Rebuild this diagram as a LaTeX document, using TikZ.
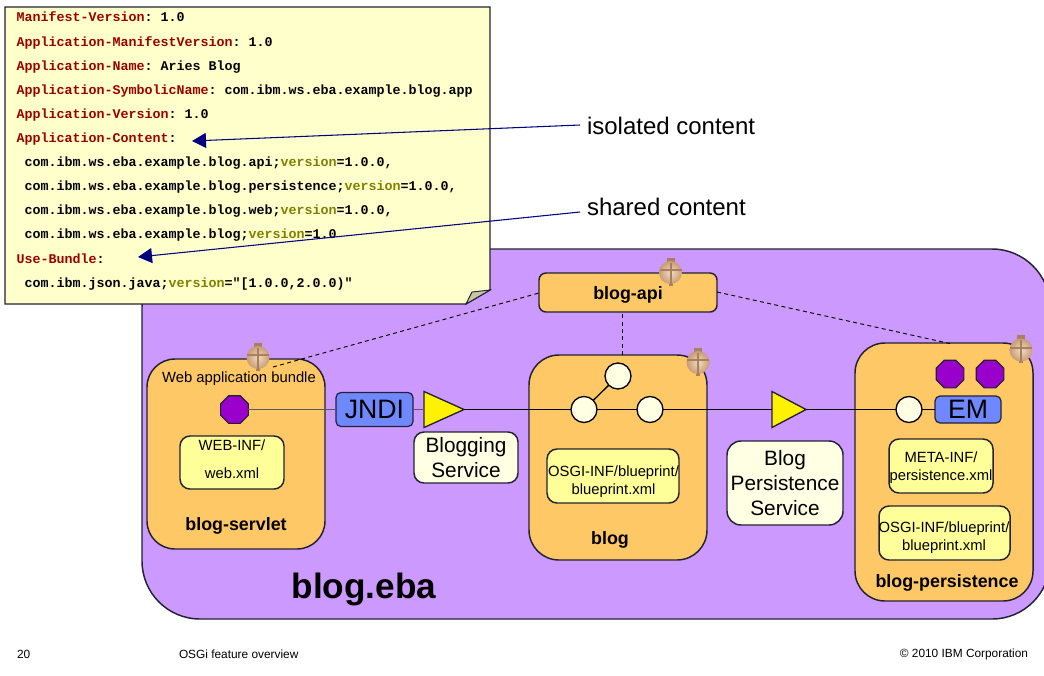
\documentclass[tikz,border=0pt]{standalone}
\usepackage{fontspec}
\setmainfont{Liberation Sans}
\setmonofont{Liberation Mono}
\usetikzlibrary{%
    arrows.meta,%
    shapes.geometric%
}
\def\px{.75pt}
\definecolor{ebapurple}{HTML}{CC99FF}
\definecolor{bundleorange}{HTML}{FFC866}
\definecolor{filled}{HTML}{FFFF99}
\definecolor{cream}{HTML}{FFFFE4}
\definecolor{notefill}{HTML}{FFFFCC}
\definecolor{notefold}{HTML}{C8C8A0}
\definecolor{emblue}{HTML}{7088FF}
\definecolor{violet}{HTML}{9900CC}
\definecolor{keyred}{HTML}{990000}
\definecolor{keyolive}{HTML}{808000}
\definecolor{linegrey}{HTML}{222233}
\definecolor{potlight}{HTML}{F0DCC0}
\definecolor{potdark}{HTML}{C89C74}
\definecolor{potline}{HTML}{A88060}
\newcommand{\keyname}[1]{\textcolor{keyred}{#1}}
\newcommand{\verkey}{\textcolor{keyolive}{version}}

\begin{document}
\begin{tikzpicture}[
    x=.75pt,y=-.75pt,
    every node/.style={outer sep=0pt,text=black},
    bundle/.style={draw=linegrey,line width=1.1pt,fill=bundleorange,inner sep=0pt},
    filebox/.style={draw=linegrey,line width=1.1pt,fill=filled,rounded corners=10*\px,
        inner sep=0pt},
    filetext/.style={inner sep=0pt,align=center,font=\fontsize{11.1pt}{13.5pt}\selectfont},
    servicebox/.style={draw=linegrey,line width=1.1pt,fill=cream,rounded corners=10*\px,
        inner sep=0pt,align=center,font=\fontsize{15.6pt}{18.6pt}\selectfont},
    resourcebox/.style={draw=linegrey,line width=.9pt,fill=emblue,rounded corners=5*\px,
        inner sep=0pt,font=\fontsize{20pt}{20pt}\selectfont},
    bundlename/.style={font=\fontsize{13.4pt}{15pt}\selectfont\bfseries},
    reference/.style={draw=linegrey,line width=.9pt,fill=violet,regular polygon,
        regular polygon sides=8,minimum size=30*\px,inner sep=0pt},
    service/.style={draw=black,line width=1pt,fill=cream,circle,minimum size=26*\px,inner sep=0pt},
    export/.style={draw=linegrey,line width=1pt,fill=yellow,isosceles triangle,
        isosceles triangle stretches,minimum width=36*\px,inner sep=0pt,anchor=west},
    wire/.style={draw=black,line width=1pt},
    softwire/.style={draw=black!65,line width=1pt},
    uses/.style={line width=.7pt,dash pattern=on 3pt off 2.5pt},
    pointer/.style={draw=blue!50!black,line width=.8pt,-{Triangle[length=14*\px,width=15*\px]}},
    manifest/.style={anchor=base west,inner sep=0pt,
        font=\fontsize{10pt}{12pt}\ttfamily\bfseries},
    callout/.style={anchor=west,inner sep=0pt,font=\fontsize{18pt}{21pt}\selectfont},
    footer/.style={inner sep=0pt,font=\fontsize{8.9pt}{11pt}\selectfont},
    potfile/.pic={
        \fill[potline] (-4,-15) rectangle (4,-9);
        \fill[potline] (-2,9) rectangle (2,13);
        \shade[inner color=potlight,outer color=potdark] (0,0) circle (11.5);
        \draw[potline,line width=1.5pt] (0,-10)--(0,11) (-11,-2.5)--(11,-2.5);
    },
    ]
    \useasboundingbox (0,0) rectangle (1044,675);
    \fill[white] (0,0) rectangle (1044,675);
    % Application
    \node[bundle,rounded corners=58*\px,fill=ebapurple,minimum width=908*\px,
          minimum height=370*\px] (eba) at (596,434) {};
    \node[font=\fontsize{26.4pt}{28pt}\selectfont\bfseries] (ebaname) at (364,589) {blog.eba};
    % Bundles
    \node[bundle,rounded corners=28*\px,minimum width=178*\px,minimum height=190*\px]
         (servlet) at (236,454) {};
    \node[bundle,rounded corners=30*\px,minimum width=178*\px,minimum height=205*\px]
         (blog) at (618,457.5) {};
    \node[bundle,rounded corners=30*\px,minimum width=178*\px,minimum height=258*\px]
         (persist) at (944,472) {};
    \node[bundle,rounded corners=7*\px,minimum width=178*\px,minimum height=39*\px]
         (api) at (628,292.5) {};
    \node[bundlename] (apiname) at (628,295) {blog-api};
    \node[bundlename] (servletname) at (236,526) {blog-servlet};
    \node[bundlename] (blogname) at (610,540) {blog};
    \node[bundlename] (persistname) at (947,583) {blog-persistence};
    \node[font=\fontsize{11.1pt}{13pt}\selectfont] (webbundle) at (239,379) {Web application bundle};
    % Package relations
    \coordinate (servletend) at (273,367);
    \coordinate (persistend) at (952,344);
    \draw[uses] (servletend)--(api.west |- 0,293);
    \draw[uses] (api.east |- 0,292)--(persistend);
    \draw[uses] (blog.north -| 622.3,0)--(api.south -| 622.3,0);
    % Contained files
    \node[filebox,minimum width=104*\px,minimum height=53*\px] (webxml) at (232,462.5) {};
    \node[filetext,font=\fontsize{11.1pt}{21pt}\selectfont] (webxmltext) at (232,459) {WEB-INF/\\web.xml};
    \node[filebox,minimum width=132*\px,minimum height=54*\px] (blogxml) at (613,476) {};
    \node[filetext] (blogxmltext) at (613.5,481.5) {OSGI-INF/blueprint/\\blueprint.xml};
    \node[filebox,minimum width=104*\px,minimum height=54*\px] (metaxml) at (941,466) {};
    \node[filetext] (metaxmltext) at (941,467.5) {META-INF/\\persistence.xml};
    \node[filebox,minimum width=131*\px,minimum height=54*\px] (persistxml) at (944.5,533) {};
    \node[filetext] (persistxmltext) at (944,537.5) {OSGI-INF/blueprint/\\blueprint.xml};
    % Services
    \node[reference] (webref) at (234.5,409.5) {};
    \node[reference] (emrefa) at (950,374) {};
    \node[reference] (emrefb) at (990,374) {};
    \node[resourcebox,minimum width=77*\px,minimum height=34*\px] (jndi) at (374.5,409.5) {JNDI};
    \node[resourcebox,minimum width=66*\px,minimum height=27*\px] (em) at (968,409.5) {EM};
    \node[export,minimum height=40*\px] (bloggingtri) at (424,409.5) {};
    \node[export,minimum height=34*\px] (persisttri) at (772,409.5) {};
    \node[service] (blogsvc) at (584,409.5) {};
    \node[service] (blogsvcb) at (650,409.5) {};
    \node[service] (blogsvcc) at (618,376) {};
    \node[service] (persistsvc) at (909,409.5) {};
    \node[servicebox,minimum width=104*\px,minimum height=51*\px] (bloggingname) at (466,457.5)
         {Blogging\\Service};
    \node[servicebox,rounded corners=14*\px,minimum width=116*\px,minimum height=84*\px]
         (persistname2) at (785,483) {Blog\\Persistence\\Service};
    % Wires
    \draw[softwire] (webref)--(jndi);
    \draw[softwire] (jndi)--(bloggingtri.west);
    \draw[wire] (bloggingtri.apex)--(blogsvc);
    \draw[wire] (blogsvc)--(blogsvcb);
    \draw[wire] (blogsvc)--(blogsvcc);
    \draw[wire] (blogsvcb)--(persisttri.west);
    \draw[wire] (persisttri.apex)--(persistsvc);
    \draw[wire] (persistsvc)--(em);
    % Bundle markers
    \path (258,357.5) pic {potfile};
    \path (670.5,272.5) pic {potfile};
    \path (698,362.5) pic {potfile};
    \path (1021,350) pic {potfile};
    % Manifest note
    \draw[draw=linegrey,line width=1pt,fill=notefill]
         (5,7)--(490,7)--(490,290)--(466,304)--(5,304)--cycle;
    \draw[draw=linegrey,line width=.7pt,fill=notefold] (490,290)--(472,292)--(466,304)--cycle;
    \node[manifest] (mfa) at (16.5,21) {\keyname{Manifest-Version}: 1.0};
    \node[manifest] (mfb) at (16.5,46) {\keyname{Application-ManifestVersion}: 1.0};
    \node[manifest] (mfc) at (16.5,70) {\keyname{Application-Name}: Aries Blog};
    \node[manifest] (mfd) at (16.5,94) {\keyname{Application-SymbolicName}: com.ibm.ws.eba.example.blog.app};
    \node[manifest] (mfe) at (16.5,118) {\keyname{Application-Version}: 1.0};
    \node[manifest] (mff) at (16.5,142) {\keyname{Application-Content}:};
    \node[manifest] (mfg) at (24.5,166) {com.ibm.ws.eba.example.blog.api;\verkey=1.0.0,};
    \node[manifest] (mfh) at (24.5,190) {com.ibm.ws.eba.example.blog.persistence;\verkey=1.0.0,};
    \node[manifest] (mfi) at (24.5,214) {com.ibm.ws.eba.example.blog.web;\verkey=1.0.0,};
    \node[manifest] (mfj) at (24.5,238) {com.ibm.ws.eba.example.blog;\verkey=1.0};
    \node[manifest] (mfk) at (16.5,263) {\keyname{Use-Bundle}:};
    \node[manifest] (mfl) at (24.5,287) {com.ibm.json.java;\verkey="[1.0.0,2.0.0)"};
    % Pointers
    \node[callout] (isolated) at (587,126) {isolated content};
    \node[callout] (shared) at (587,207) {shared content};
    \coordinate (isolatedtip) at (192,141);
    \coordinate (sharedtip) at (138,257);
    \draw[pointer] (isolated.west)++(-7,-1)--(isolatedtip);
    \draw[pointer] (shared.west)++(-7,5)--(sharedtip);
    % Footer
    \node[footer,anchor=west] (pagenum) at (17,654) {20};
    \node[footer,anchor=west] (deck) at (179,654) {OSGi feature overview};
    \node[footer,anchor=east] (copyright) at (1028,654) {© 2010 IBM Corporation};
\end{tikzpicture}
\end{document}
